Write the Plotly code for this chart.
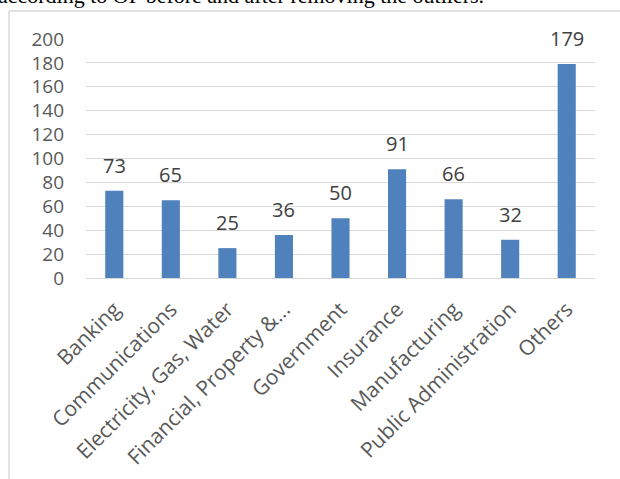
import plotly.graph_objects as go

# Count of records per industry
industries = [
    "Banking", "Communications", "Electricity, Gas, Water", "Financial, Property &...",
    "Government", "Insurance", "Manufacturing", "Public Administration", "Others",
]
counts = [73, 65, 25, 36, 50, 91, 66, 32, 179]
y_ticks = list(range(0, 201, 20))

W, H = 620, 479
L, R, T, B = 86, 25, 39, 201
pw, ph = W - L - R, H - T - B


def px_x(x):
    return (x - L) / pw


def px_y(y):
    return (H - B - y) / ph


text_gray = "#595959"
label_gray = "#404040"
grid_gray = "#d9d9d9"
font_family = "Open Sans"

fig = go.Figure(
    go.Bar(
        x=industries,
        y=counts,
        marker=dict(color="#4f81bd", line=dict(width=0)),
        width=0.32,
        hoverinfo="x+y",
    )
)

# value labels above each bar
value_labels = [
    dict(
        x=cat, y=val, xref="x", yref="y",
        text=str(val), showarrow=False,
        xanchor="center", yanchor="bottom", yshift=10,
        font=dict(family=font_family, size=20, color=label_gray),
    )
    for cat, val in zip(industries, counts)
]

fig.update_layout(
    width=W,
    height=H,
    margin=dict(l=L, r=R, t=T, b=B, autoexpand=False),
    paper_bgcolor="white",
    plot_bgcolor="white",
    showlegend=False,
    font=dict(family=font_family, color=text_gray),
    xaxis=dict(
        tickangle=-45,
        tickfont=dict(family=font_family, size=21, color=text_gray),
        showgrid=False,
        showline=False,
        ticks="",
        ticklabelstandoff=14,
        automargin=False,
    ),
    yaxis=dict(
        range=[0, 200],
        tickvals=y_ticks,
        tickfont=dict(family=font_family, size=19, color=text_gray),
        showgrid=True,
        gridcolor=grid_gray,
        gridwidth=1.3,
        zeroline=True,
        zerolinecolor=grid_gray,
        zerolinewidth=1.3,
        showline=False,
        ticks="",
        ticklabelstandoff=21,
        automargin=False,
    ),
    shapes=[
        # chart frame (left and top edges)
        dict(type="line", xref="paper", yref="paper",
             x0=px_x(9), x1=px_x(9), y0=px_y(11), y1=px_y(485),
             line=dict(color=grid_gray, width=1.5)),
        dict(type="line", xref="paper", yref="paper",
             x0=px_x(9), x1=px_x(625), y0=px_y(11), y1=px_y(11),
             line=dict(color=grid_gray, width=1.5)),
    ],
    annotations=value_labels + [
        dict(
            text="according to OP before and after removing the outliers.",
            xref="paper", yref="paper",
            x=px_x(-4), y=px_y(10),
            xanchor="left", yanchor="bottom",
            showarrow=False,
            font=dict(family="Liberation Serif", size=22, color="black"),
        )
    ],
)

fig.write_html("out.html")
